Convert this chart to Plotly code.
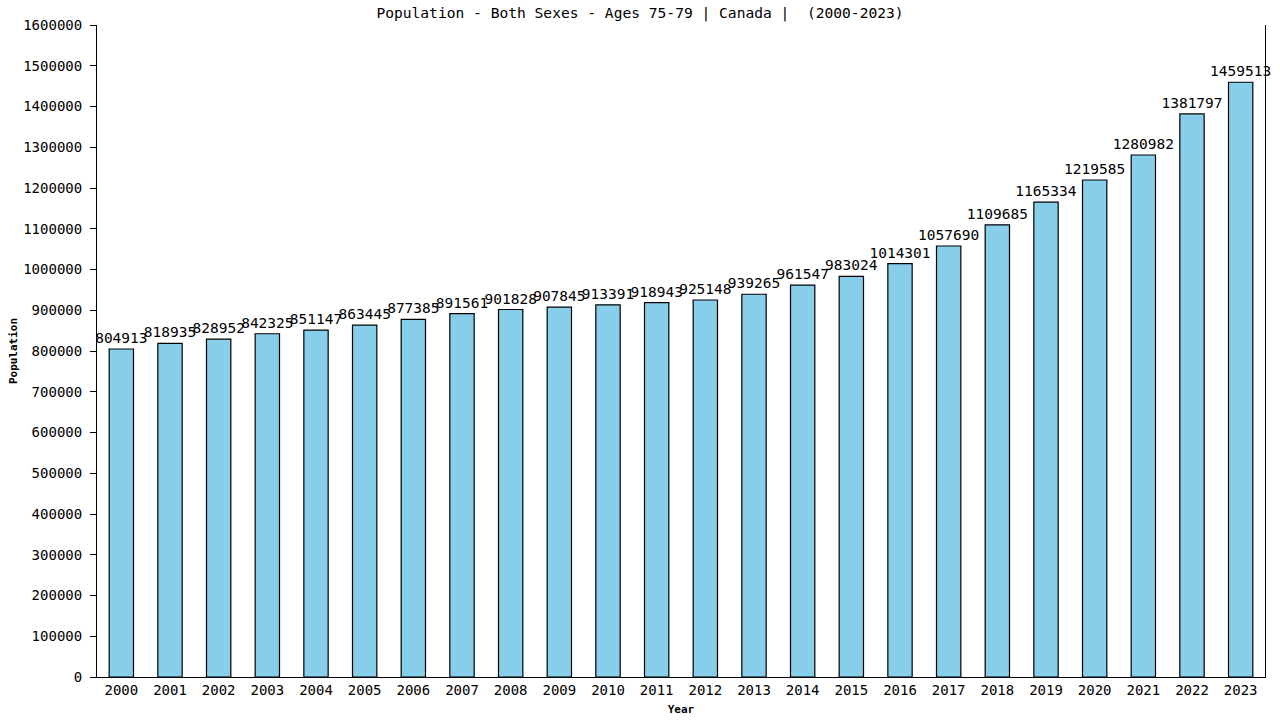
import plotly.graph_objects as go

years = [str(y) for y in range(2000, 2024)]
population = [804913, 818935, 828952, 842325, 851147, 863445, 877385, 891561,
              901828, 907845, 913391, 918943, 925148, 939265, 961547, 983024,
              1014301, 1057690, 1109685, 1165334, 1219585, 1280982, 1381797, 1459513]
title = "Population - Both Sexes - Ages 75-79 | Canada |  (2000-2023)"

FONT = "DejaVu Sans Mono"

fig = go.Figure(go.Bar(
    x=years, y=population,
    text=[str(v) for v in population],
    textposition="outside",
    constraintext="none",
    textfont=dict(family=FONT, size=14.5, color="black"),
    marker=dict(color="#87CEEB", line=dict(color="black", width=1.2)),
    cliponaxis=False,
))

fig.update_layout(
    width=1280, height=720,
    paper_bgcolor="white", plot_bgcolor="white",
    margin=dict(l=97, r=15, t=25, b=43, autoexpand=False),
    bargap=0.5,
    showlegend=False,
    title=dict(text=title, x=0.5, xanchor="center", yref="container", y=0.982, yanchor="middle",
               font=dict(family=FONT, size=14.6, color="black")),
    font=dict(family=FONT, size=14, color="black"),
)
fig.update_xaxes(
    type="category", showline=True, linecolor="black", linewidth=1,
    ticks="", showgrid=False, automargin=False,
    tickfont=dict(family=FONT, size=14, color="black"),
    title=dict(text="<b>Year</b>", font=dict(family=FONT, size=11, color="black"), standoff=8),
)
fig.update_yaxes(
    range=[0, 1600000], dtick=100000, tickformat="d", automargin=False,
    showline=True, linecolor="black", linewidth=1, mirror=True,
    ticks="outside", ticklen=6, tickcolor="black", ticklabelstandoff=5,
    showgrid=False, zeroline=False,
    tickfont=dict(family=FONT, size=14, color="black"),
    title=dict(text="<b>Population</b>", font=dict(family=FONT, size=11, color="black"), standoff=3),
)

fig.write_html("out.html", config={"displayModeBar": False},
               post_script="document.body.style.margin='0';")
